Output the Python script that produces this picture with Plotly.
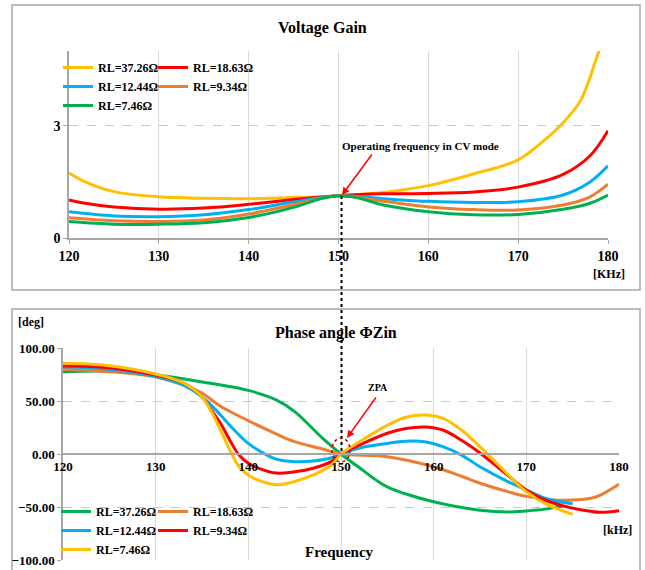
import plotly.graph_objects as go

W, H = 645, 570

# ---------------- Data: Voltage Gain (top) ----------------
g_x_3726 = [120, 122, 125, 130, 135, 140, 145, 150, 155, 160, 165, 170, 173, 175, 177, 179, 180]
g_y_3726 = [1.74, 1.48, 1.24, 1.10, 1.06, 1.05, 1.08, 1.13, 1.22, 1.40, 1.71, 2.09, 2.63, 3.08, 3.70, 5.00, 5.60]
g_x_1863 = [120, 122, 125, 130, 135, 140, 145, 150, 155, 160, 165, 170, 175, 178, 180]
g_y_1863 = [1.02, 0.92, 0.83, 0.77, 0.80, 0.90, 1.03, 1.13, 1.18, 1.19, 1.23, 1.36, 1.70, 2.20, 2.87]
g_x_1244 = [120, 125, 130, 135, 140, 145, 150, 155, 160, 165, 170, 175, 178, 180]
g_y_1244 = [0.70, 0.59, 0.57, 0.62, 0.76, 0.96, 1.13, 1.05, 0.98, 0.95, 0.97, 1.15, 1.50, 1.93]
g_x_934 = [120, 125, 130, 135, 140, 145, 150, 155, 160, 165, 170, 175, 178, 180]
g_y_934 = [0.54, 0.46, 0.44, 0.48, 0.64, 0.89, 1.13, 0.98, 0.83, 0.76, 0.75, 0.88, 1.10, 1.44]
g_x_746 = [120, 125, 130, 135, 140, 145, 148, 150, 152, 155, 160, 165, 170, 175, 178, 180]
g_y_746 = [0.44, 0.37, 0.37, 0.41, 0.55, 0.82, 1.05, 1.13, 1.08, 0.88, 0.70, 0.62, 0.63, 0.77, 0.93, 1.15]

# ---------------- Data: Phase angle (bottom) ----------------
p_x_3726 = [120, 125, 130, 135, 140, 143, 145, 148, 150, 152, 155, 160, 165, 168, 170, 172, 174]
p_y_3726 = [77.6, 78.0, 74.5, 68.0, 60.0, 51.0, 40.0, 15.0, 0.0, -13.0, -31.0, -45.0, -53.0, -54.7, -53.7, -52.0, -49.0]
p_x_1863 = [120, 125, 130, 133, 135, 137, 140, 143, 145, 148, 150, 155, 160, 163, 165, 168, 170, 173, 175, 177, 178, 180]
p_y_1863 = [80.0, 77.6, 72.6, 65.0, 57.5, 45.0, 31.4, 19.0, 11.6, 4.7, 0.0, -2.5, -12.0, -21.0, -27.6, -35.5, -40.0, -43.4, -43.4, -41.7, -38.7, -28.5]
p_x_1244 = [120, 125, 130, 133, 135, 137, 138, 140, 142, 143, 145, 147, 149, 150, 152, 155, 157, 159, 161, 163, 165, 168, 170, 172, 175]
p_y_1244 = [82.4, 80.0, 73.0, 65.0, 54.0, 36.8, 27.0, 10.0, -1.0, -4.8, -7.2, -6.6, -3.5, 0.0, 5.6, 10.0, 12.0, 11.6, 6.9, -1.0, -12.0, -26.0, -34.0, -41.7, -47.0]
p_x_934 = [120, 125, 130, 133, 135, 136, 137, 138, 139, 140, 141, 143, 145, 147, 149, 150, 152, 155, 157, 159, 161, 163, 165, 167, 170, 172, 174, 176, 178, 180]
p_y_934 = [83.3, 81.4, 74.5, 67.0, 54.0, 41.5, 29.0, 13.0, -1.0, -8.8, -13.0, -18.0, -16.7, -13.4, -7.0, 0.0, 8.5, 19.6, 24.0, 25.5, 22.6, 13.0, 1.0, -13.0, -34.0, -43.4, -49.0, -52.8, -55.0, -53.5]
p_x_746 = [120, 125, 130, 133, 135, 136, 137, 138, 139, 140, 141, 143, 145, 147, 149, 150, 152, 155, 157, 159, 161, 163, 165, 167, 170, 172, 175]
p_y_746 = [85.5, 83.3, 75.5, 67.0, 54.0, 40.0, 22.6, 3.8, -12.0, -19.8, -24.5, -29.0, -26.0, -19.8, -10.4, 0.0, 11.6, 27.0, 34.6, 36.8, 33.6, 22.6, 6.9, -10.4, -35.5, -46.5, -57.0]

labels = ["RL=37.26Ω", "RL=18.63Ω", "RL=12.44Ω", "RL=9.34Ω", "RL=7.46Ω"]
x_ticks_top = [120, 130, 140, 150, 160, 170, 180]
y_ticks_top = [0, 3]

YELLOW, RED, BLUE, ORANGE, GREEN = "#FFC000", "#FF0000", "#00B0F0", "#ED7D31", "#00B050"
FONT = "Liberation Serif, Times New Roman, serif"


def px(x):
    return x / W


def py(y):
    return 1 - y / H


fig = go.Figure()

top_series = [
    (g_x_3726, g_y_3726, labels[0], YELLOW, "legend"),
    (g_x_1863, g_y_1863, labels[1], RED, "legend2"),
    (g_x_1244, g_y_1244, labels[2], BLUE, "legend"),
    (g_x_934, g_y_934, labels[3], ORANGE, "legend2"),
    (g_x_746, g_y_746, labels[4], GREEN, "legend"),
]
for xs, ys, name, col, lg in top_series:
    fig.add_trace(go.Scatter(x=xs, y=ys, name=name, mode="lines",
                             line=dict(color=col, width=3, shape="spline", smoothing=1.0),
                             xaxis="x", yaxis="y", legend=lg))

bot_series = [
    (p_x_3726, p_y_3726, labels[0], GREEN, "legend3"),
    (p_x_1863, p_y_1863, labels[1], ORANGE, "legend4"),
    (p_x_1244, p_y_1244, labels[2], BLUE, "legend3"),
    (p_x_934, p_y_934, labels[3], RED, "legend4"),
    (p_x_746, p_y_746, labels[4], YELLOW, "legend3"),
]
for xs, ys, name, col, lg in bot_series:
    fig.add_trace(go.Scatter(x=xs, y=ys, name=name, mode="lines",
                             line=dict(color=col, width=3, shape="spline", smoothing=1.0),
                             xaxis="x2", yaxis="y2", legend=lg))

# Plot-area geometry (pixels)
T_L, T_R, T_T, T_B = 69, 608, 51, 238
B_L, B_R, B_T, B_B = 63, 619, 348, 560

axis_common = dict(showgrid=True, zeroline=False, ticks="outside", ticklen=4, automargin=False,
                   tickcolor="#A6A6A6", showline=True, linecolor="#A6A6A6", linewidth=1.5)

fig.update_layout(
    template="none",
    width=W, height=H,
    margin=dict(l=0, r=0, t=0, b=0, pad=0),
    paper_bgcolor="white", plot_bgcolor="white",
    font=dict(family=FONT, color="black", weight="bold"),
    xaxis=dict(domain=[px(T_L), px(T_R)], anchor="y", range=[120, 180], tickvals=x_ticks_top,
               gridcolor="#D9D9D9", gridwidth=1,
               tickfont=dict(family=FONT, size=14, weight="bold"), **axis_common),
    yaxis=dict(domain=[py(T_B), py(T_T)], anchor="x", range=[0, 5], tickvals=y_ticks_top,
               gridcolor="#C8C8C8", griddash="dash", gridwidth=1,
               tickfont=dict(family=FONT, size=14, weight="bold"), **axis_common),
    xaxis2=dict(domain=[px(B_L), px(B_R)], anchor="free", position=(py(B_B) + py(B_T)) / 2,
                range=[120, 180], dtick=10, gridcolor="#D9D9D9", gridwidth=1,
                tickfont=dict(family=FONT, size=13, weight="bold"), automargin=False,
                showgrid=True, zeroline=False, ticks="", showline=True,
                linecolor="#A6A6A6", linewidth=2),
    yaxis2=dict(domain=[py(B_B), py(B_T)], anchor="x2", range=[-100, 100], dtick=50,
                tickformat=".2f", gridcolor="#C8C8C8", griddash="dash", gridwidth=1,
                tickfont=dict(family=FONT, size=13, weight="bold"), **axis_common),
    showlegend=True,
)

leg_common = dict(bgcolor="rgba(0,0,0,0)", borderwidth=0, xanchor="left", yanchor="top",
                  font=dict(family=FONT, size=12, color="black", weight="bold"),
                  tracegroupgap=0, itemclick=False, itemdoubleclick=False)
fig.update_layout(
    legend=dict(x=px(58), y=py(53), **leg_common),
    legend2=dict(x=px(153), y=py(53), **leg_common),
    legend3=dict(x=px(56), y=py(497), **leg_common),
    legend4=dict(x=px(153), y=py(497), **leg_common),
)

# Panel frames
fig.add_shape(type="rect", xref="paper", yref="paper", x0=px(12), x1=px(640), y0=py(290), y1=py(5),
              line=dict(color="#A6A6A6", width=1.5), layer="below")
fig.add_shape(type="rect", xref="paper", yref="paper", x0=px(12), x1=px(640), y0=py(580), y1=py(309),
              line=dict(color="#A6A6A6", width=1.5), layer="below")

# Dotted link line at 150 kHz
fig.add_shape(type="line", xref="paper", yref="paper", x0=px(341.5), x1=px(341.5), y0=py(196), y1=py(453),
              line=dict(color="black", width=2, dash="dot"))

# ZPA dashed circle
fig.add_shape(type="circle", xref="paper", yref="paper", x0=px(332), x1=px(350), y0=py(462), y1=py(438),
              line=dict(color="#C00000", width=1.5, dash="dot"))

ann_font = dict(family=FONT, color="black", weight="bold")


def label(x, y, text, size):
    fig.add_annotation(x=px(x), y=py(y), xref="paper", yref="paper", text=text,
                       xanchor="center", yanchor="middle", showarrow=False,
                       font=dict(size=size, **ann_font))


label(322, 28, "Voltage Gain", 16)
label(336, 333, "Phase angle ΦZin", 16)
label(420, 146, "Operating frequency in CV mode", 11)
label(378, 387, "ZPA", 10)
label(609, 274, "[KHz]", 12)
label(617, 530, "[kHz]", 12)
label(339, 552, "Frequency", 15)
label(31, 322, "[deg]", 12)

fig.add_annotation(x=px(342), y=py(195), xref="paper", yref="paper", ax=31, ay=-42, text="",
                   showarrow=True, arrowhead=2, arrowsize=1, arrowwidth=1.5, arrowcolor="#FF0000")
fig.add_annotation(x=px(347), y=py(438), xref="paper", yref="paper", ax=30, ay=-42, text="",
                   showarrow=True, arrowhead=2, arrowsize=1, arrowwidth=1.5, arrowcolor="#FF0000")

fig.write_html("out.html", config={"displayModeBar": False, "responsive": False},
               post_script="document.body.style.margin='0';document.body.style.overflow='hidden';")
